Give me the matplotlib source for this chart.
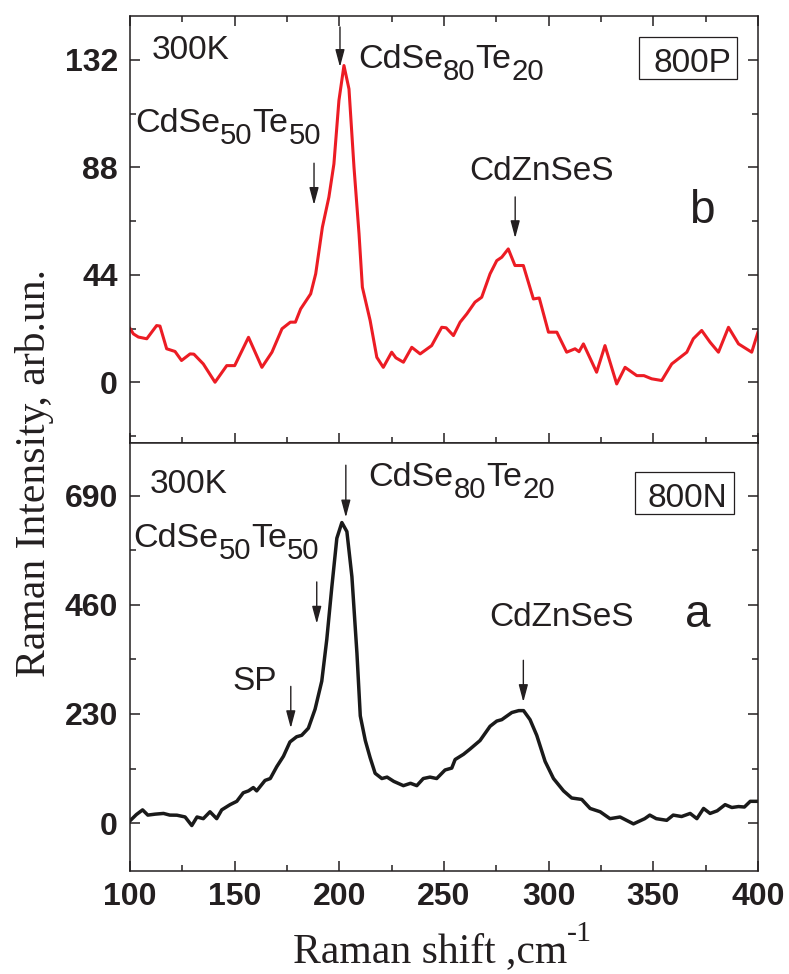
#!/usr/bin/env python3
"""
Raman spectra of the 800P and 800N samples at 300 K, stacked in two panels
that share the Raman shift axis.
"""

import matplotlib
matplotlib.use("Agg")
import matplotlib.pyplot as plt
import matplotlib.transforms as mtransforms
from matplotlib.patches import Rectangle
from matplotlib.ticker import MultipleLocator

# Sample 800P (upper panel, b)
shift_p = [100, 101.6, 104, 108, 112.7, 114.3, 117.5, 121.5, 124.6, 128.7,
           130.5, 135, 140.6, 146.2, 150, 156.6, 163, 167.8, 172.6, 176.6,
           179, 181.5, 186.3, 188.7, 191.9, 195, 197.4, 199.8, 202.2, 204.6,
           207, 209.4, 211, 214.7, 217.9, 221, 225, 227, 230.6, 234.6,
           238.6, 244.1, 248.9, 251, 254.5, 257.7, 260.9, 264.8, 268, 272,
           275.2, 277.6, 280.7, 283.9, 287.9, 292.7, 295.5, 299.9, 303.9, 308.6,
           312.6, 314.5, 316.6, 322.9, 326.9, 332.5, 336.5, 342.1, 345.5, 349.2,
           354, 358.8, 366, 369.1, 373.1, 377.1, 381.1, 385.9, 390.7, 397, 400]
intensity_p = [22, 19.8, 18.5, 17.8, 23.2, 23, 13.7, 12.6, 8.9, 11.6,
               11.5, 7.5, 0, 6.8, 6.8, 18.4, 6.1, 12.3, 21.9, 24.6,
               24.6, 30, 36.2, 44.4, 63.5, 75.8, 89.4, 115.4, 129.7, 120.1,
               88, 60.8, 38.9, 25.3, 10.2, 6.1, 12.3, 10, 8.2, 14.3,
               11.6, 15, 22.5, 22.3, 19.1, 24.6, 28, 32.8, 34.8, 44.4,
               49.8, 51.2, 54.6, 47.8, 47.8, 34.1, 34.5, 20.5, 20.5, 12.3,
               13.7, 12.5, 15.7, 4.1, 15, -0.7, 6.1, 2.7, 2.7, 1.4,
               0.7, 7.5, 12.3, 17.8, 21.2, 16.4, 12.3, 22.5, 15.7, 12.3, 20.5]

# Sample 800N (lower panel, a)
shift_n = [100, 103, 106, 108.5, 112, 116, 119, 122.4, 126.3, 129.5,
           132, 135, 138.2, 141.4, 143.8, 147.8, 151, 154.1, 156.6, 158.9,
           160.5, 164.5, 167, 170.1, 173.3, 176.4, 179.6, 182, 185.2, 188.4,
           191.6, 194, 196.4, 198.8, 201.2, 203.6, 206, 208.4, 210, 212.4,
           214.7, 217.1, 220.3, 222.8, 226, 230.6, 234, 237, 240.1, 243.3,
           246.5, 250.5, 253.7, 255.3, 259.3, 262.4, 267.2, 272, 275.2, 277.6,
           282.4, 285.7, 288, 291.1, 294.3, 298.3, 302.3, 307.1, 311, 315.8,
           319.8, 324.6, 329.3, 334.1, 340.5, 345.9, 348.3, 351.4, 356.4, 359.5,
           363.5, 367.6, 370.8, 374, 377.1, 380.5, 384.3, 387.5, 390.7, 393.5,
           396.3, 400]
intensity_n = [5, 18, 28, 17, 19, 20.5, 17, 16.8, 13.1, -5,
               13, 9.5, 24, 9.5, 28, 39, 46, 64, 68, 75,
               68, 90, 94, 119, 141, 171, 182, 185, 200, 240,
               299, 387, 497, 600, 633, 614, 519, 358, 226, 174,
               138, 105, 94, 97, 88, 79, 84, 79, 94, 97,
               94, 112, 116, 134, 145, 156, 174, 204, 215, 218,
               233, 237, 237, 218, 185, 130, 94, 68, 53, 50,
               31, 24, 9.5, 13, -1.5, 9.5, 17, 9.5, 6, 17,
               14, 20.5, 9.5, 31, 20.5, 26, 39, 33, 35, 34,
               46, 46]

xticks = [100, 150, 200, 250, 300, 350, 400]
yticks_p = [0, 44, 88, 132]
yticks_n = [0, 230, 460, 690]

INK = "#231f20"
RED = "#ec1c24"
SANS = ["Liberation Sans", "DejaVu Sans"]
SERIF = ["Liberation Serif", "DejaVu Serif"]


def put_pieces(fig, base, x, y, pieces, size, family=SANS):
    """Write a label built from normal (0), subscript (-1) and superscript (1) runs."""
    renderer = fig.canvas.get_renderer()
    dx = 0.0
    for text, level in pieces:
        if level == 0:
            fs, dy = size, 0.0
        elif level < 0:
            fs, dy = size * 0.86, -0.36 * size
        else:
            fs, dy = size * 0.72, 0.5 * size
        tr = mtransforms.offset_copy(base, fig=fig, x=dx, y=dy, units="points")
        t = fig.text(x, y, text, transform=tr, fontsize=fs, family=family,
                     color=INK, ha="left", va="baseline")
        dx += t.get_window_extent(renderer).width * 72.0 / fig.dpi


def arrow(ax, x, y_tail, y_tip):
    ax.annotate("", xy=(x, y_tip), xytext=(x, y_tail),
                arrowprops=dict(arrowstyle="-|>,head_length=1.05,head_width=0.28",
                                mutation_scale=10, lw=1.0, color=INK,
                                shrinkA=0, shrinkB=0))


def style_axes(ax, yticks, yminor, ylim, top_ticks):
    ax.set_xlim(100, 400)
    ax.set_ylim(*ylim)
    ax.set_xticks(xticks, labels=[str(v) for v in xticks],
                  fontsize=23, fontweight="bold", family=SANS, color=INK)
    ax.set_yticks(yticks, labels=[str(v) for v in yticks],
                  fontsize=23, fontweight="bold", family=SANS, color=INK)
    ax.xaxis.set_minor_locator(MultipleLocator(25))
    ax.yaxis.set_minor_locator(MultipleLocator(yminor))
    ax.tick_params(which="both", direction="in", top=top_ticks, right=True,
                   width=1.1, color=INK)
    ax.tick_params(which="major", length=7)
    ax.tick_params(which="minor", length=4)
    ax.tick_params(axis="x", pad=8.4)
    ax.tick_params(axis="y", pad=8.6)
    for sp in ax.spines.values():
        sp.set_linewidth(1.1)
        sp.set_color(INK)


def sample_box(ax, name, x0, y0, x1, y1, tx, ty):
    ax.add_patch(Rectangle((x0, y0), x1 - x0, y1 - y0, transform=ax.transAxes,
                           fill=False, lw=0.9, edgecolor=INK, zorder=4))
    ax.text(tx, ty, name, transform=ax.transAxes, fontsize=24, family=SANS,
            color=INK, ha="center", va="baseline")


def main():
    fig = plt.figure(figsize=(7.89, 9.74), dpi=100)
    ax_p = fig.add_axes([0.1648, 0.5449, 0.7959, 0.4387])
    ax_n = fig.add_axes([0.1648, 0.1061, 0.7959, 0.4388])

    # upper panel: 800P
    ax_p.plot(shift_p, intensity_p, color=RED, lw=2.2)
    style_axes(ax_p, yticks_p, 22, (-25, 150), True)
    ax_p.tick_params(axis="x", labelbottom=False)

    ax_p.text(110.4, 132.4, "300K", fontsize=24, family=SANS, color=INK,
              ha="left", va="baseline")
    put_pieces(fig, ax_p.transData, 208.9, 128.7,
               [("CdSe", 0), ("80", -1), ("Te", 0), ("20", -1)], 24.5)
    put_pieces(fig, ax_p.transData, 102.4, 102.5,
               [("CdSe", 0), ("50", -1), ("Te", 0), ("50", -1)], 24.5)
    ax_p.text(296.4, 82.8, "CdZnSeS", fontsize=24, family=SANS, color=INK,
              ha="center", va="baseline")
    ax_p.text(373, 65.4, "b", fontsize=33, family=SANS, color=INK,
              ha="center", va="baseline")
    arrow(ax_p, 200.3, 145.5, 129.1)
    arrow(ax_p, 187.9, 89.7, 72.6)
    arrow(ax_p, 284.0, 75.9, 59.0)
    sample_box(ax_p, "800P", 0.811, 0.8526, 0.966, 0.950, 0.8957, 0.8697)

    # lower panel: 800N
    ax_n.plot(shift_n, intensity_n, color="#1a1a1a", lw=2.5)
    style_axes(ax_n, yticks_n, 115, (-100, 800), False)

    ax_n.text(109.6, 695, "300K", fontsize=24, family=SANS, color=INK,
              ha="left", va="baseline")
    put_pieces(fig, ax_n.transData, 213.9, 711,
               [("CdSe", 0), ("80", -1), ("Te", 0), ("20", -1)], 24.5)
    put_pieces(fig, ax_n.transData, 101.6, 581.5,
               [("CdSe", 0), ("50", -1), ("Te", 0), ("50", -1)], 24.5)
    ax_n.text(159.7, 280.8, "SP", fontsize=24, family=SANS, color=INK,
              ha="center", va="baseline")
    ax_n.text(306.3, 416, "CdZnSeS", fontsize=24, family=SANS, color=INK,
              ha="center", va="baseline")
    ax_n.text(371.4, 413, "a", fontsize=33, family=SANS, color=INK,
              ha="center", va="baseline")
    arrow(ax_n, 203.1, 753.8, 643.7)
    arrow(ax_n, 189.2, 508, 420)
    arrow(ax_n, 176.8, 288, 200)
    arrow(ax_n, 287.9, 343, 255)
    sample_box(ax_n, "800N", 0.804, 0.834, 0.962, 0.932, 0.8877, 0.851)

    # shared axis titles
    fig.text(0.0436, 0.5139, "Raman Intensity, arb.un.", rotation=90,
             fontsize=30, family=SERIF, color=INK, ha="center", va="center")
    put_pieces(fig, fig.transFigure, 0.371, 0.0125,
               [("Raman shift ,cm", 0), ("-1", 1)], 30, family=SERIF)

    fig.savefig("out.png", dpi=100)


if __name__ == "__main__":
    main()
